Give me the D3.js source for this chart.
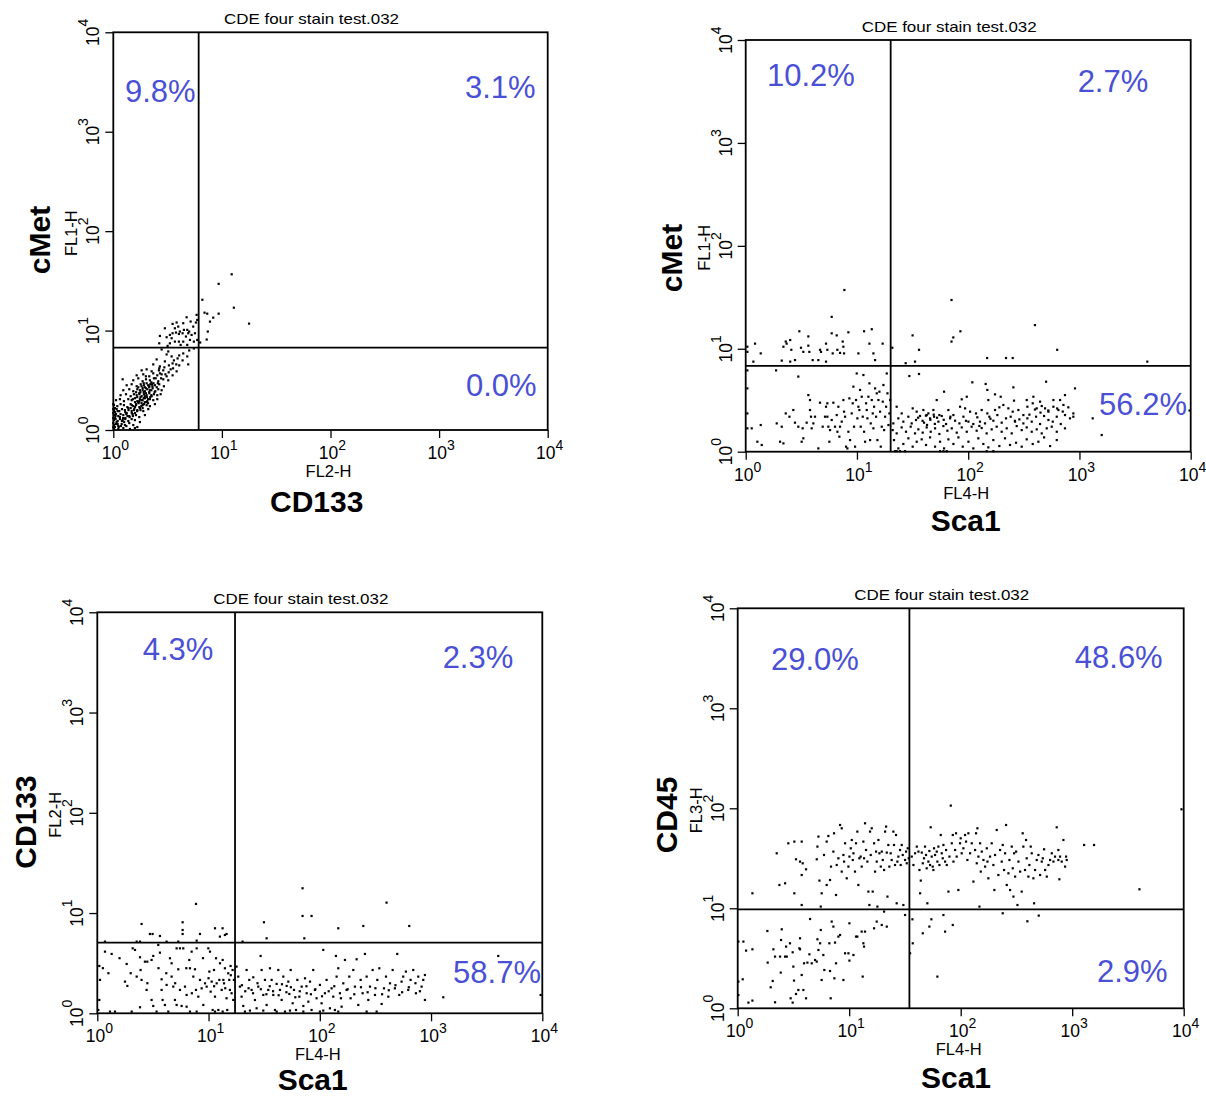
<!DOCTYPE html>
<html>
<head>
<meta charset="utf-8">
<script src="https://cdn.jsdelivr.net/npm/d3@7/dist/d3.min.js"></script>
<style>
  body { margin: 0; background: #fff; }
  svg { display: block; }
  text { font-family: "Liberation Sans", Arial, sans-serif; }
</style>
</head>
<body>
<div id="chart"></div>
<script>
// all event values are log10 intensities (decades 0..4)
const tickExp = [0, 1, 2, 3, 4];
const plotTitle = "CDE four stain test.032";

// panel 1: x = FL2-H (CD133), y = FL1-H (cMet)
const cmetCd133 = [
  [.675,1.134],[.644,1.074],[.598,1.04],[.567,1.023],[.613,.99],[.65,1.007],[.681,1.007],[.699,.99],[.736,1.04],[.767,1.158],
  [.773,1.107],[.752,.973],[.721,.956],[.69,.973],[.669,.94],[.638,.973],[.604,.966],[.577,.98],[.546,.973],[.521,.956],
  [.491,.933],[.567,.889],[.604,.889],[.644,.889],[.706,.906],[.742,.889],[.773,.906],[.521,.872],[.537,.923],[.429,.946],
  [.423,.872],[.475,1.023],[.546,1.067],[.583,1.081],[.712,1.091],[.761,1.081],[.681,.856],[.62,.856],[.5,.846],
  [1.09,1.566],[.97,1.47],[1.11,1.23],[1.25,1.07],[.82,1.31],[.84,1.18],[.865,1.17],[.97,1.17],[.92,1.13],[.89,1.09],[.87,.99],[.86,.91],[.80,.88],
  [.445,.81],[.506,.79],[.699,.80],[.742,.82],
  [.491,.76],[.537,.74],[.607,.75],[.644,.77],[.681,.74],
  [.399,.71],[.475,.69],[.558,.70],[.592,.72],[.638,.70],
  [.368,.66],[.429,.64],[.512,.65],[.546,.67],[.607,.65],[.690,.66],
  [.261,.60],[.307,.61],[.353,.59],[.423,.62],[.460,.60],[.528,.61],[.583,.59],
  [.215,.55],[.276,.56],[.331,.54],[.368,.57],[.405,.55],[.445,.56],[.491,.54],[.546,.55],
  [.086,.51],[.184,.50],[.230,.52],[.270,.49],[.301,.51],[.337,.50],[.374,.52],[.414,.49],[.460,.51],[.506,.50],
  [.123,.45],[.169,.46],[.215,.44],[.252,.46],[.282,.45],[.307,.47],[.331,.44],[.356,.46],[.383,.45],[.423,.46],[.466,.44],
  [.092,.40],[.147,.41],[.184,.39],[.221,.41],[.245,.40],[.270,.42],[.291,.39],[.313,.41],[.337,.40],[.362,.42],[.387,.39],[.414,.41],[.445,.40],
  [.067,.35],[.117,.36],[.160,.34],[.190,.36],[.215,.35],[.239,.37],[.261,.34],[.282,.36],[.307,.35],[.331,.37],[.353,.34],[.374,.36],[.405,.35],[.436,.36],
  [.025,.30],[.061,.31],[.098,.29],[.138,.31],[.169,.30],[.199,.32],[.221,.29],[.245,.31],[.270,.30],[.291,.32],[.313,.29],[.337,.31],[.368,.30],[.405,.31],
  [.006,.25],[.037,.24],[.067,.26],[.098,.25],[.129,.23],[.160,.26],[.184,.24],[.209,.25],[.233,.27],[.258,.24],[.282,.26],[.307,.25],[.337,.24],[.383,.26],
  [.006,.20],[.031,.21],[.055,.19],[.080,.21],[.107,.20],[.138,.22],[.169,.19],[.193,.21],[.221,.20],[.245,.22],[.276,.19],[.322,.21],
  [.006,.15],[.025,.16],[.046,.14],[.067,.16],[.092,.15],[.123,.17],[.147,.14],[.178,.16],[.209,.15],[.239,.13],[.291,.15],
  [.006,.10],[.021,.11],[.040,.09],[.061,.11],[.086,.10],[.110,.12],[.138,.09],[.169,.11],[.199,.10],[.245,.08],
  [.006,.05],[.025,.06],[.046,.04],[.077,.06],[.107,.05],[.147,.07],[.184,.05],[.221,.03],
  [.006,.01],[.046,.01],[.092,.02],[.153,.01],[.199,.02],
  [.23,.43],[.26,.44],[.29,.43],[.32,.45],[.25,.38],[.28,.38],[.30,.37],[.33,.38],[.35,.40],[.22,.33],
  [.25,.33],[.28,.32],[.31,.33],[.34,.33],[.20,.28],[.23,.28],[.26,.27],[.29,.28],[.32,.27],[.17,.25],
  [.20,.23],[.24,.23],[.27,.22],[.14,.20],[.17,.17],[.20,.17],[.11,.18],[.13,.14],[.09,.12],[.06,.13],
  [.03,.08],[.05,.03],[.015,.12],[.015,.18],[.015,.03],[.015,.22],[.10,.08],[.12,.04],[.35,.48],[.39,.52],
  [.30,.54],[.43,.57],[.47,.63],[0,.03],[0,.07],[0,.12],[0,.17],[0,.21],[0,.26],
  [.21,.38],[.24,.36],[.27,.40],[.30,.42],[.33,.43],[.36,.44],[.26,.30],[.29,.34],[.32,.31],[.35,.35],
  [.38,.38],[.40,.43],[.18,.31],[.21,.26],[.24,.29],[.27,.25],[.30,.28],[.16,.22],[.19,.20],[.22,.19],
  [.25,.20],[.12,.16],[.15,.13],[.18,.14],[.08,.09],[.11,.11],[.04,.06],[.07,.04],[.02,.14],[.04,.19],
  [.34,.46],[.37,.47],[.41,.47],[.28,.47],[.44,.52],[.48,.56],[.51,.58],[.42,.60],[.55,.62],[.58,.66]
];

// panel 2: x = FL4-H (Sca1), y = FL1-H (cMet)
const cmetSca1 = [
  [.015,1.02],[.015,.97],[.084,1.05],[.069,.875],[.135,.955],[.339,1.02],[.36,1.07],[.368,1.05],[.40,1.085],[.41,.99],
  [.40,.875],[.324,.885],[.443,.89],[.482,1.17],[.497,1.01],[.518,.97],[.563,1.12],[.563,1.03],[.572,.97],[.602,.89],
  [.653,.89],[.668,.99],[.677,.97],[.722,1.05],[.722,.875],[.734,.99],[.773,1.31],[.773,1.15],[.782,.955],[.818,1.13],
  [.824,.99],[.848,.96],[.872,1.07],[.878,1.02],[.884,.955],[.923,1.16],[1.013,.955],[1.064,1.17],[1.112,1.05],[1.133,1.19],
  [1.148,.955],[1.163,.89],[1.231,1.05],[.887,1.571],
  [1.318,1.01],[1.438,.86],[1.50,1.13],[1.522,.875],[1.558,.99],[1.85,1.07],[1.866,1.11],[1.93,1.17],[2.17,.91],[2.34,.91],
  [2.40,.91],[2.60,1.23],[2.80,.99],[3.61,.875],[1.85,1.474],
  [.015,.79],[.015,.615],[.015,.372],[.015,.227],[.054,.227],[.105,.097],[.144,.065],[.135,.259],[.273,.79],[.279,.275],
  [.309,.097],[.339,.081],[.324,.243],[.36,.372],[.393,.34],[.428,.405],[.443,.282],[.473,.73],[.473,.243],[.503,.097],
  [.518,.13],[.512,.227],[.548,.282],[.563,.55],[.578,.502],[.578,.405],[.587,.34],[.593,.227],[.608,.275],[.623,.34],
  [.653,.032],[.668,.476],[.692,.243],[.713,.34],[.722,.437],[.734,.47],[.734,.34],[.743,.243],[.752,.097],[.758,.21],
  [.773,.308],[.788,.476],[.803,.243],[.818,.356],[.824,.194],[.833,.437],[.842,.146],[.848,.243],[.863,.292],[.878,.502],
  [.884,.389],[.893,.34],[.902,.049],[.914,.032],[.923,.194],[.932,.518],[.938,.113],[.953,.372],[.962,.47],[.968,.632],
  [.974,.243],[.983,.049],[.992,.502],[.998,.76],[1.004,.324],[1.013,.437],[1.022,.405],[1.028,.60],[1.034,.243],[1.043,.534],
  [1.052,.34],[1.058,.745],[1.064,.194],[1.073,.097],[1.082,.47],[1.088,.405],[1.094,.324],[1.103,.534],[1.112,.664],[1.118,.113],
  [1.124,.275],[1.133,.502],[1.142,.372],[1.148,.227],[1.154,.437],[1.163,.615],[1.172,.34],[1.178,.567],[1.184,.113],[1.193,.502],
  [1.202,.583],[1.208,.389],[1.214,.049],[1.223,.243],[1.232,.486],[1.238,.648],[1.244,.21],[1.253,.34],[1.262,.437],[1.268,.76],
  [1.274,.567],[1.283,.259],[1.292,.372],[1.298,.502],
  [1.471,.735],[1.558,.755],[1.783,.583],[1.717,.502],[2.037,.674],[2.157,.658],[2.172,.60],[2.406,.625],[2.70,.68],[2.96,.615],
  [2.241,.557],[2.292,.534],[2.412,.496],[2.526,.502],[2.586,.534],[2.646,.486],[2.766,.502],[2.826,.502],[2.87,.55],[2.181,.502],
  [1.987,.534],[1.942,.509],
  [1.357,.437],[1.402,.372],[1.501,.421],[1.537,.389],[1.597,.405],[1.642,.372],[1.687,.405],[1.741,.356],[1.822,.405],[1.867,.356],
  [1.927,.437],[1.972,.421],[2.017,.389],[2.07,.372],[2.121,.405],[2.172,.372],[2.241,.405],[2.28,.431],[2.316,.454],[2.361,.421],
  [2.40,.389],[2.451,.405],[2.496,.356],[2.532,.437],[2.58,.47],[2.616,.421],[2.661,.444],[2.691,.421],[2.721,.389],[2.766,.437],
  [2.811,.405],[2.856,.454],[2.90,.431],[2.945,.372],
  [1.327,.275],[1.372,.324],[1.417,.292],[1.462,.34],[1.492,.275],[1.531,.308],[1.567,.347],[1.603,.282],[1.627,.356],[1.657,.324],
  [1.693,.34],[1.732,.292],[1.762,.347],[1.801,.269],[1.837,.324],[1.882,.301],[1.921,.275],[1.957,.34],[2.002,.292],[2.046,.269],
  [2.082,.334],[2.106,.292],[2.151,.275],[2.19,.34],[2.226,.301],[2.262,.356],[2.301,.282],[2.34,.324],[2.382,.34],[2.421,.292],
  [2.46,.314],[2.496,.275],[2.532,.324],[2.571,.292],[2.61,.34],[2.646,.269],[2.682,.347],[2.721,.308],[2.76,.292],[2.796,.34],
  [2.832,.269],[2.87,.356],[2.915,.324],[2.945,.34],
  [1.321,.21],[1.357,.178],[1.402,.236],[1.441,.194],[1.483,.243],[1.522,.178],[1.552,.217],[1.591,.185],[1.627,.236],[1.663,.194],
  [1.702,.227],[1.741,.172],[1.777,.249],[1.813,.204],[1.852,.227],[1.897,.185],[1.942,.236],[1.987,.194],[2.031,.243],[2.076,.204],
  [2.121,.23],[2.166,.178],[2.211,.217],[2.256,.243],[2.301,.194],[2.346,.227],[2.391,.178],[2.436,.249],[2.481,.21],[2.526,.236],
  [2.571,.194],[2.616,.217],[2.661,.178],[2.706,.227],[2.751,.243],[2.796,.194],[2.87,.227],[3.119,.324],[3.20,.162],
  [1.333,.113],[1.372,.032],[1.417,.075],[1.462,.13],[1.501,.049],[1.537,.097],[1.582,.12],[1.621,.065],[1.657,.139],[1.702,.049],
  [1.747,.097],[1.783,.032],[1.822,.12],[1.867,.075],[1.912,.139],[1.951,.049],[2.002,.097],[2.046,.032],[2.091,.13],[2.136,.075],
  [2.181,.042],[2.226,.113],[2.28,.055],[2.331,.13],[2.376,.065],[2.43,.087],[2.481,.049],[2.526,.12],[2.58,.075],[2.631,.097],
  [2.682,.139],[2.736,.055],[2.796,.113],
  [1.342,.005],[1.357,.005],[1.387,.005],[1.432,.005],[1.747,.005],[1.777,.005],[1.807,.005],[2.166,.005],[2.226,.005],[3.99,.40],
  [1.55,.33],[1.59,.30],[1.62,.35],[1.66,.31],[1.69,.36],[1.72,.33],[1.78,.31],[1.84,.34],[1.63,.26],[1.70,.27],
  [2.60,.41],[2.65,.38],[2.72,.40],[2.55,.36],[2.80,.42],[2.85,.39],[2.42,.30],[2.20,.32],[1.98,.30],[2.10,.25]
];

// panel 3: x = FL4-H (Sca1), y = FL2-H (CD133)
const cd133Sca1 = [
  [.398,.891],[.473,.791],[.497,.791],[.563,.771],[.767,.908],[.767,.831],[.767,.791],[.887,1.091],[.923,.791],[1.058,.848],
  [1.126,.848],[1.147,.781],[1.162,.791],[.069,.715],[.354,.715],[.384,.715],[.623,.715],[.728,.715],[.893,.725],[1.102,.765],
  [1.845,1.247],[1.845,.971],[1.926,.971],[1.498,.908],[2.166,.848],[2.391,.871],[2.60,1.104],[2.804,.871],[1.306,.715],[1.522,.748],[1.861,.748],
  [.018,.472],[.024,.333],[.018,.133],[.009,.033],[.069,.615],[.129,.592],[.264,.492],[.27,.273],[.318,.648],[.339,.632],
  [.384,.559],[.389,.432],[.428,.515],[.449,.515],[.488,.532],[.503,.572],[.548,.682],[.563,.605],[.578,.339],[.587,.133],
  [.608,.083],[.623,.283],[.653,.549],[.668,.366],[.683,.266],[.713,.648],[.728,.439],[.743,.648],[.758,.073],[.773,.648],
  [.788,.266],[.803,.066],[.827,.532],[.833,.449],[.848,.615],[.863,.366],[.878,.439],[.887,.233],[.893,.648],[.908,.166],
  [.923,.333],[.938,.249],[.953,.083],[.968,.299],[.983,.266],[.998,.648],[1.007,.416],[1.013,.615],[1.019,.216],[1.028,.316],
  [1.037,.033],[1.049,.432],[1.058,.166],[1.067,.549],[1.073,.299],[1.088,.033],[1.097,.333],[1.103,.499],[1.118,.233],[1.127,.532],
  [1.133,.333],[1.139,.299],[1.147,.449],[1.162,.150],[1.168,.033],[1.177,.399],[1.186,.333],[1.192,.233],[1.198,.472],[1.207,.2],
  [1.216,.432],[1.222,.133],[1.228,.333],[.114,.017],[.159,.017],[.309,.017],[.384,.06],[.503,.073],[.533,.017],[.638,.017],
  [.713,.083],[.833,.017],[.893,.017],[1.058,.017],[1.127,.017],[.249,.316],[.443,.233],[.488,.133],[.578,.233],[.398,.333],
  [.354,.366],[.668,.499],[.743,.233],[.803,.183],[.698,.133],
  [.05,.45],[.10,.40],[.20,.55],[.30,.40],[.45,.30],[.55,.45],[.62,.40],[.70,.30],[.80,.45],[.85,.20],[.95,.55],[1.0,.35],[1.05,.27],[1.15,.25],[1.20,.38],
  [1.252,.466],[1.267,.366],[1.282,.266],[1.297,.166],[1.312,.073],[1.327,.017],[1.342,.432],[1.366,.333],[1.387,.233],[1.402,.359],
  [1.417,.133],[1.432,.05],[1.447,.266],[1.468,.572],[1.477,.432],[1.492,.183],[1.507,.333],[1.522,.083],[1.537,.233],[1.552,.449],
  [1.567,.333],[1.582,.183],[1.597,.033],[1.612,.293],[1.627,.432],[1.642,.233],[1.657,.133],[1.672,.366],[1.687,.017],[1.702,.273],
  [1.717,.316],[1.726,.193],[1.738,.432],[1.756,.1],[1.768,.233],[1.786,.033],[1.798,.333],[1.816,.166],[1.837,.266],[1.852,.073],
  [1.867,.349],[1.882,.2],[1.897,.116],[1.912,.316],[1.926,.033],[1.941,.432],[1.956,.233],[1.971,.15],[2.001,.283],[2.016,.1],
  [2.031,.632],[2.046,.2],[2.061,.333],[2.091,.05],[2.106,.249],[2.121,.166],[2.145,.572],[2.151,.366],[2.166,.449],[2.181,.2],
  [2.196,.066],[2.211,.299],[2.226,.532],[2.241,.233],[2.265,.366],[2.277,.15],[2.301,.432],[2.316,.266],[2.331,.539],[2.346,.083],
  [2.367,.333],[2.385,.2],[2.406,.592],[2.421,.366],[2.436,.133],[2.451,.266],[2.475,.432],[2.496,.183],[2.517,.333],[2.535,.449],
  [2.556,.093],[2.577,.249],[2.595,.366],[2.616,.166],[2.631,.299],[2.655,.432],[2.675,.249],[2.696,.592],[2.714,.183],[2.735,.316],
  [2.75,.366],[2.774,.416],[2.795,.233],[2.816,.333],[2.84,.432],[2.864,.2],[2.885,.366],[2.915,.266],[2.93,.333],[2.945,.382],
  [2.945,.133],[3.11,.16],[3.985,.183],[3.604,.572],
  [1.372,.027],[1.492,.027],[1.732,.027],[1.852,.017],[2.031,.027],[2.136,.033],[2.166,.017],[2.421,.017],[2.511,.017],[1.612,.017],[2.001,.017],
  [1.30,.28],[1.33,.22],[1.36,.25],[1.40,.20],[1.44,.30],[1.47,.24],[1.52,.19],[1.55,.27],[1.58,.22],[1.63,.18],
  [1.66,.29],[1.70,.21],[1.74,.26],[1.78,.16],[1.82,.22],[1.88,.27],[1.92,.19],[1.96,.24],[2.02,.17],[2.08,.22],
  [2.13,.27],[2.19,.15],[2.25,.24],[2.31,.19],[2.37,.26],[2.43,.21],[2.50,.25],[2.56,.19],[2.62,.23],[2.68,.28],
  [2.74,.21],[2.80,.26],[2.86,.30],[2.90,.22]
];

// panel 4: x = FL4-H (Sca1), y = FL3-H (CD45)
const cd45Sca1 = [
  [.132,1.15],[.35,1.55],[.374,1.233],[.425,1.25],[.454,1.65],[.508,1.667],[.508,1.15],[.523,1.49],[.559,1.467],[.574,1.667],
  [.574,1.333],[.574,1.033],[.583,1.45],[.613,1.39],[.709,1.49],[.715,1.617],[.724,1.717],[.733,1.277],[.745,1.017],[.753,1.15],
  [.774,1.533],[.798,1.667],[.798,1.233],[.813,1.723],[.828,1.283],[.837,1.417],[.858,1.567],[.864,1.75],[.882,1.133],[.888,1.433],
  [.903,1.5],[.918,1.833],[.933,1.80],[.933,1.367],[.948,1.533],[.954,1.467],[.963,1.65],[.978,1.30],[.993,1.417],[1.002,1.517],
  [1.014,1.60],[1.023,1.683],[1.032,1.483],[1.038,1.55],[1.052,1.367],[1.061,1.65],[1.073,1.767],[1.082,1.233],[1.091,1.50],[1.103,1.517],
  [1.112,1.417],[1.127,1.667],[1.133,1.50],[1.142,1.85],[1.151,1.583],[1.163,1.467],[1.172,1.167],[1.181,1.033],[1.187,1.767],[1.193,1.533],
  [1.202,1.80],[1.211,1.167],[1.223,1.65],[1.232,1.367],[1.241,1.567],[1.247,1.467],[1.253,1.017],[1.262,1.683],[1.271,1.55],[1.283,1.417],
  [1.292,1.567],[1.301,1.483],[1.313,1.383],[1.322,1.767],[1.331,1.817],[1.337,1.557],[1.343,1.117],[1.351,1.633],[1.360,1.417],[1.372,1.55],
  [1.381,1.483],[1.396,1.767],[1.402,1.633],[1.411,1.433],[1.42,1.733],[1.426,1.05],[1.432,1.467],[1.441,1.517],[1.456,1.583],[1.462,1.433],
  [1.471,1.633],[1.480,1.533],[1.486,1.033],[1.501,1.483],[1.510,1.567],[1.516,1.45],[1.525,1.60],[1.534,1.50],
  [1.561,1.517],[1.576,1.433],[1.591,1.55],[1.606,1.617],[1.621,1.567],[1.630,1.383],[1.636,1.15],[1.642,1.277],[1.651,1.557],[1.660,1.45],
  [1.671,1.50],[1.680,1.617],[1.689,1.533],[1.695,1.40],[1.701,1.05],[1.710,1.467],[1.719,1.573],[1.725,1.433],[1.731,1.81],[1.740,1.517],
  [1.749,1.417],[1.755,1.383],[1.761,1.60],[1.770,1.533],[1.785,1.567],[1.791,1.467],[1.80,1.617],[1.809,1.433],[1.821,1.733],[1.830,1.55],
  [1.839,1.50],[1.845,1.633],[1.860,1.467],[1.869,1.583],[1.875,1.433],[1.890,1.167],[1.899,1.517],[1.911,2.027],[1.920,1.65],[1.929,1.733],
  [1.935,1.467],[1.950,1.583],[1.958,1.75],[1.964,1.517],[1.979,1.183],[1.994,1.65],[2.0,1.70],[2.009,1.55],[2.024,1.60],[2.039,1.733],
  [2.048,1.667],[2.060,1.483],[2.069,1.75],[2.084,1.55],[2.099,1.65],[2.114,1.267],[2.129,1.583],[2.138,1.75],[2.144,1.45],[2.150,1.80],
  [2.159,1.517],[2.168,1.017],[2.174,1.65],[2.180,1.367],[2.189,1.567],[2.204,1.483],[2.219,1.417],[2.234,1.60],[2.240,1.467],[2.248,1.30],
  [2.263,1.517],[2.278,1.65],[2.293,1.433],[2.302,1.183],[2.308,1.533],[2.323,1.783],[2.338,1.333],[2.353,1.583],[2.368,1.467],[2.377,1.633],
  [2.389,1.383],[2.398,1.55],[2.407,1.833],[2.413,1.233],[2.428,1.35],[2.437,1.483],[2.443,1.183],[2.458,1.617],[2.467,1.40],[2.473,1.117],
  [2.479,1.55],[2.488,1.317],[2.497,1.567],[2.509,1.033],[2.518,1.467],[2.533,1.367],[2.547,1.167],[2.556,1.75],[2.562,1.617],[2.577,1.383],
  [2.586,1.683],[2.592,1.50],[2.607,1.317],[2.616,1.433],[2.628,1.617],[2.637,1.55],[2.652,1.30],[2.658,1.05],[2.667,1.383],[2.682,1.483],
  [2.697,1.533],[2.712,1.333],[2.727,1.467],[2.736,1.50],[2.748,1.59],[2.757,1.383],[2.772,1.317],[2.787,1.433],[2.802,1.483],[2.817,1.55],
  [2.832,1.467],[2.846,1.517],[2.861,1.81],[2.876,1.583],[2.885,1.29],[2.891,1.517],[2.906,1.467],[2.921,1.683],[2.936,1.417],[2.951,1.483],
  [3.107,1.633],[3.196,1.633],[3.603,1.19],[3.98,1.99],[2.876,1.483],[2.945,1.517],
  [1.567,.89],[1.570,.65],[1.546,.55],[1.660,.75],[1.719,.817],[1.737,.89],[1.845,.933],[1.860,.767],[1.929,.833],[1.791,.317],
  [2.377,.95],[2.598,.87],[2.70,.927],
  [.006,.667],[.006,.267],[.006,.133],[.051,.667],[.045,.29],[.075,.577],[.096,.057],[.132,.59],[.132,.077],[.266,.773],
  [.269,.457],[.296,.21],[.314,.273],[.320,.59],[.335,.517],[.335,.06],[.380,.517],[.386,.357],[.389,.683],[.395,.79],
  [.425,.517],[.434,.617],[.440,.517],[.469,.65],[.475,.10],[.493,.56],[.493,.057],[.499,.417],[.505,.277],[.523,.143],
  [.544,.183],[.553,.60],[.559,.70],[.559,.59],[.574,.333],[.589,.183],[.595,.45],[.613,.10],[.625,.457],[.643,.54],
  [.649,.893],[.664,.45],[.694,.483],[.709,.467],[.715,.69],[.724,.583],[.739,.65],[.745,.783],[.753,.283],[.768,.533],
  [.777,.383],[.822,.65],[.828,.373],[.834,.10],[.843,.867],[.858,.817],[.867,.30],[.873,.657],[.882,.45],[.903,.717],
  [.918,.733],[.948,.283],[.963,.55],[.993,.55],[1.002,.85],[1.002,.477],[1.038,.533],[1.061,.717],[1.073,.717],[1.112,.767],
  [1.121,.317],[1.127,.65],[1.133,.617],[1.142,.767],[1.223,.80],[1.247,.867],[1.292,.833],[1.313,.967],[1.337,.817],[1.501,.933]
];

// quadrant marker positions (log10)
const gateP1 = [0.786, 0.829];
const gateP2 = [1.303, 0.833];
const gateP3 = [1.238, 0.705];
const gateP4 = [1.54, 0.99];

// quadrant percentages: upper-left, upper-right, lower-right
const pctP1 = ["9.8%", "3.1%", "0.0%"];
const pctP2 = ["10.2%", "2.7%", "56.2%"];
const pctP3 = ["4.3%", "2.3%", "58.7%"];
const pctP4 = ["29.0%", "48.6%", "2.9%"];

const panels = [
  { box: [113.3, 547.7, 32.3, 430], pts: cmetCd133, gate: gateP1, pct: pctP1,
    xParam: "FL2-H", yParam: "FL1-H", xName: "CD133", yName: "cMet",
    xNamePos: [316.7, 511.7], yNamePos: [50, 240],
    pctPos: [[125, 101.7, "start"], [535.7, 98.3, "end"], [536.7, 396, "end"]] },
  { box: [745.7, 1190.7, 40, 451.7], pts: cmetSca1, gate: gateP2, pct: pctP2,
    xParam: "FL4-H", yParam: "FL1-H", xName: "Sca1", yName: "cMet",
    xNamePos: [965.7, 531], yNamePos: [682, 258],
    pctPos: [[767, 86, "start"], [1148.3, 91.7, "end"], [1187, 415, "end"]] },
  { box: [97.3, 542.3, 612.3, 1013.3], pts: cd133Sca1, gate: gateP3, pct: pctP3,
    xParam: "FL4-H", yParam: "FL2-H", xName: "Sca1", yName: "CD133",
    xNamePos: [312.7, 1090], yNamePos: [36, 822],
    pctPos: [[142.7, 660, "start"], [513.3, 668.3, "end"], [541, 982.7, "end"]] },
  { box: [737.7, 1183.7, 608.3, 1008.3], pts: cd45Sca1, gate: gateP4, pct: pctP4,
    xParam: "FL4-H", yParam: "FL3-H", xName: "Sca1", yName: "CD45",
    xNamePos: [956, 1088.3], yNamePos: [676.5, 815],
    pctPos: [[771, 670, "start"], [1162.7, 668.3, "end"], [1167.7, 981.7, "end"]] }
];

const width = 1206, height = 1097;
const svg = d3.select("#chart").append("svg")
  .attr("width", width).attr("height", height);

// minor tick values 2..9 x 10^k
const minorTicks = [];
tickExp.slice(0, 4).forEach(e => {
  for (let m = 2; m <= 9; m++) minorTicks.push(m * Math.pow(10, e));
});
const majorTicks = tickExp.map(e => Math.pow(10, e));

panels.forEach(p => {
  const [L, R, T, B] = p.box;
  const x = d3.scaleLog().domain([1, 1e4]).range([L, R]);
  const y = d3.scaleLog().domain([1, 1e4]).range([B, T]);
  const g = svg.append("g");

  // title
  g.append("text")
    .attr("x", (L + R) / 2 - 19).attr("y", T - 8)
    .attr("text-anchor", "middle")
    .attr("font-size", 15)
    .attr("textLength", 175).attr("lengthAdjust", "spacingAndGlyphs")
    .text(plotTitle);

  // axes: minor + major ticks
  const ax = g.append("g").attr("transform", "translate(0," + B + ")");
  ax.call(d3.axisBottom(x).tickValues(minorTicks).tickSize(6).tickFormat(""));
  ax.call(d3.axisBottom(x).tickValues(majorTicks).tickSize(8).tickFormat(""));
  const ay = g.append("g").attr("transform", "translate(" + L + ",0)");
  ay.call(d3.axisLeft(y).tickValues(minorTicks).tickSize(6).tickFormat(""));
  ay.call(d3.axisLeft(y).tickValues(majorTicks).tickSize(8).tickFormat(""));
  g.selectAll(".domain").remove();
  g.selectAll(".tick line").attr("stroke", "#000").attr("stroke-width", 1.3);

  // tick labels 10^k
  tickExp.forEach(e => {
    const t = g.append("text")
      .attr("x", x(Math.pow(10, e)) + 2).attr("y", B + 29)
      .attr("text-anchor", "middle").attr("font-size", 17.5);
    t.append("tspan").text("10");
    t.append("tspan").attr("dy", -9).attr("font-size", 14).text(e);

    const ty = g.append("text")
      .attr("transform", "translate(" + (L - 14) + "," + y(Math.pow(10, e)) + ") rotate(-90)")
      .attr("text-anchor", "middle").attr("font-size", 17.5);
    ty.append("tspan").text("10");
    ty.append("tspan").attr("dy", -11).attr("font-size", 14).text(e);
  });

  // parameter names
  g.append("text")
    .attr("x", (L + R) / 2 - 2).attr("y", B + 47)
    .attr("text-anchor", "middle").attr("font-size", 16.5)
    .text(p.xParam);
  g.append("text")
    .attr("transform", "translate(" + (L - 36) + "," + ((T + B) / 2 + 2) + ") rotate(-90)")
    .attr("text-anchor", "middle").attr("font-size", 16.5)
    .text(p.yParam);

  // marker names
  g.append("text")
    .attr("x", p.xNamePos[0]).attr("y", p.xNamePos[1])
    .attr("text-anchor", "middle").attr("font-size", 30).attr("font-weight", "bold")
    .text(p.xName);
  g.append("text")
    .attr("transform", "translate(" + p.yNamePos[0] + "," + p.yNamePos[1] + ") rotate(-90)")
    .attr("text-anchor", "middle").attr("font-size", 30).attr("font-weight", "bold")
    .text(p.yName);

  // events
  g.append("g").selectAll("rect")
    .data(p.pts)
    .join("rect")
    .attr("x", d => x(Math.pow(10, d[0])) - 1.1)
    .attr("y", d => y(Math.pow(10, d[1])) - 1.1)
    .attr("width", 2.2).attr("height", 2.2)
    .attr("fill", "#000");

  // quadrant lines
  const gx = x(Math.pow(10, p.gate[0])), gy = y(Math.pow(10, p.gate[1]));
  g.append("line").attr("x1", gx).attr("x2", gx).attr("y1", T).attr("y2", B)
    .attr("stroke", "#000").attr("stroke-width", 1.8);
  g.append("line").attr("x1", L).attr("x2", R).attr("y1", gy).attr("y2", gy)
    .attr("stroke", "#000").attr("stroke-width", 1.8);

  // frame
  g.append("rect").attr("x", L).attr("y", T)
    .attr("width", R - L).attr("height", B - T)
    .attr("fill", "none").attr("stroke", "#000").attr("stroke-width", 1.8);

  // percentages
  p.pct.forEach((s, i) => {
    const pos = p.pctPos[i];
    g.append("text")
      .attr("x", pos[0]).attr("y", pos[1])
      .attr("text-anchor", pos[2])
      .attr("font-size", 31).attr("fill", "#4a50d6")
      .text(s);
  });
});
</script>
</body>
</html>
